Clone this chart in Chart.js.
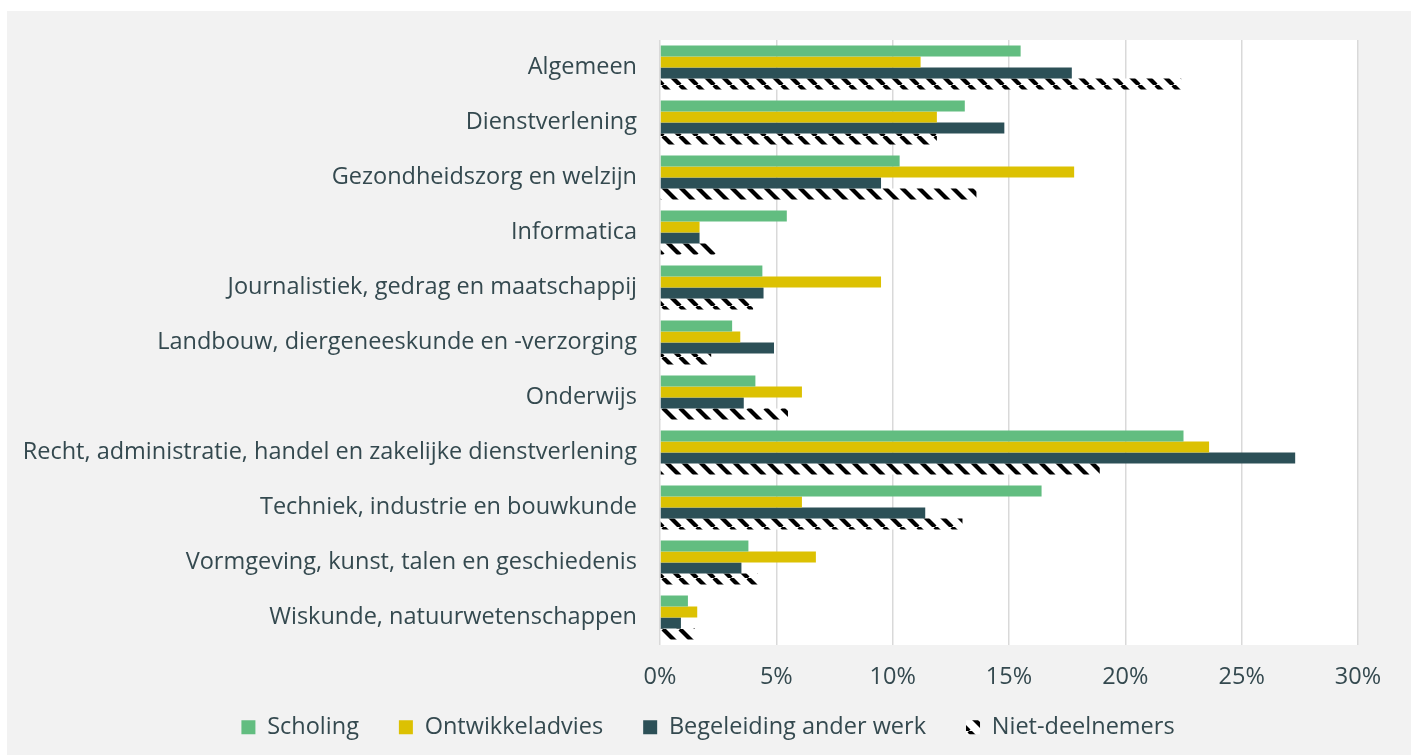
<!DOCTYPE html>
<html>
<head>
<meta charset="utf-8">
<script src="https://cdn.jsdelivr.net/npm/chart.js@4"></script>
<style>
  html, body { margin: 0; padding: 0; background: #fff; }
</style>
</head>
<body>
<canvas id="myChart" width="1416" height="755"></canvas>
<script>
// Categorieën (opleidingsrichting)
const categorieen = [
  'Algemeen',
  'Dienstverlening',
  'Gezondheidszorg en welzijn',
  'Informatica',
  'Journalistiek, gedrag en maatschappij',
  'Landbouw, diergeneeskunde en -verzorging',
  'Onderwijs',
  'Recht, administratie, handel en zakelijke dienstverlening',
  'Techniek, industrie en bouwkunde',
  'Vormgeving, kunst, talen en geschiedenis',
  'Wiskunde, natuurwetenschappen'
];

// Waarden in procenten
const scholing        = [15.5, 13.1, 10.3, 5.45, 4.4, 3.1, 4.1, 22.5, 16.4, 3.8, 1.2];
const ontwikkeladvies = [11.2, 11.9, 17.8, 1.7, 9.5, 3.45, 6.1, 23.6, 6.1, 6.7, 1.6];
const begeleiding     = [17.7, 14.8, 9.5, 1.7, 4.45, 4.9, 3.6, 27.3, 11.4, 3.5, 0.9];
const nietDeelnemers  = [22.4, 11.9, 13.6, 2.4, 4.0, 2.2, 5.5, 18.9, 13.0, 4.2, 1.5];

// As-labels
const xTicks = [0, 5, 10, 15, 20, 25, 30];

const tekstKleur = '#34494f';
const fontFam = '"Open Sans", Lato, sans-serif';
const fontSize = 23.5;

// Arcering voor niet-deelnemers
function maakPatroon() {
  const s = 17;
  const c = document.createElement('canvas');
  c.width = s; c.height = s;
  const p = c.getContext('2d');
  p.fillStyle = '#fff';
  p.fillRect(0, 0, s, s);
  p.strokeStyle = '#000';
  p.lineWidth = 4.2;
  for (let k = -1; k <= 1; k++) {
    p.beginPath();
    p.moveTo(k * s, 0);
    p.lineTo(k * s + s, s);
    p.stroke();
  }
  return p.createPattern(c, 'repeat');
}

// Achtergronden tekenen, as-labels niet afsnijden, legenda iets omhoog
const achtergrond = {
  id: 'achtergrond',
  afterLayout(chart) {
    chart.scales.x.bottom += 20;
    chart.legend.top -= 6;
    chart.legend.bottom -= 6;
  },
  beforeDraw(chart) {
    const { ctx, chartArea } = chart;
    ctx.save();
    ctx.fillStyle = '#ffffff';
    ctx.fillRect(0, 0, chart.width, chart.height);
    ctx.fillStyle = '#f2f2f2';
    ctx.fillRect(7, 11, 1404, 744);
    ctx.fillStyle = '#ffffff';
    ctx.fillRect(chartArea.left, chartArea.top, chartArea.right - chartArea.left, chartArea.bottom - chartArea.top);
    ctx.restore();
  }
};

const ctx = document.getElementById('myChart').getContext('2d');
const myChart = new Chart(ctx, {
  type: 'bar',
  data: {
    labels: categorieen,
    datasets: [
      { label: 'Scholing', data: scholing, backgroundColor: '#62bd80' },
      { label: 'Ontwikkeladvies', data: ontwikkeladvies, backgroundColor: '#dcc102' },
      { label: 'Begeleiding ander werk', data: begeleiding, backgroundColor: '#2c5057' },
      { label: 'Niet-deelnemers', data: nietDeelnemers, backgroundColor: maakPatroon() }
    ]
  },
  options: {
    indexAxis: 'y',
    responsive: false,
    animation: false,
    layout: { padding: { top: 40, left: 0, right: 0, bottom: 0 } },
    datasets: {
      bar: { categoryPercentage: 0.8, barPercentage: 1.0, borderWidth: 0 }
    },
    scales: {
      x: {
        min: 0,
        max: 30,
        afterBuildTicks(scale) {
          scale.ticks = xTicks.map(v => ({ value: v }));
        },
        afterFit(scale) { scale.height = 36.5; },
        grid: { color: '#d9d9d9', lineWidth: 1.5, drawTicks: false },
        border: { display: false },
        ticks: {
          padding: 18,
          color: tekstKleur,
          font: { family: fontFam, size: fontSize },
          callback: v => v + '%'
        }
      },
      y: {
        afterFit(scale) { scale.width = 660; },
        grid: { display: false, drawTicks: false },
        border: { display: false },
        ticks: {
          padding: 23,
          color: tekstKleur,
          font: { family: fontFam, size: fontSize }
        }
      },
      rechts: {
        type: 'category',
        position: 'right',
        afterFit(scale) { scale.width = 58; },
        grid: { display: false, drawTicks: false },
        border: { display: false },
        ticks: { display: false }
      }
    },
    plugins: {
      legend: {
        position: 'bottom',
        labels: {
          boxWidth: 14,
          boxHeight: 14,
          padding: 40,
          color: tekstKleur,
          font: { family: fontFam, size: fontSize }
        }
      },
      tooltip: { enabled: false }
    }
  },
  plugins: [achtergrond]
});
</script>
</body>
</html>
